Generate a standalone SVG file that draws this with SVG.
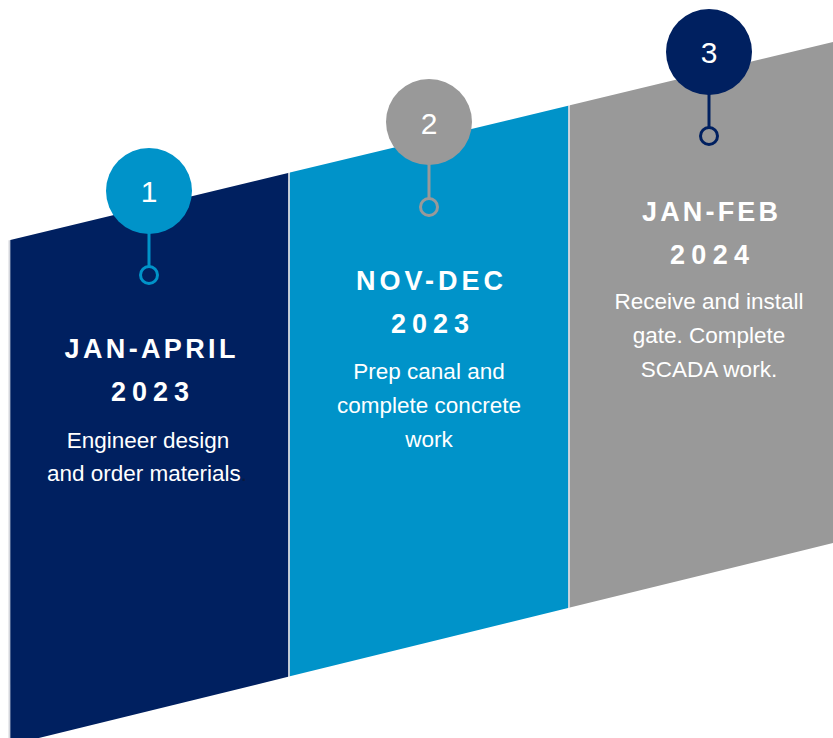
<svg xmlns="http://www.w3.org/2000/svg" width="833" height="738" viewBox="0 0 833 738">
  <style>
    .navy { fill: #002060; }
    .blue { fill: #0093C9; }
    .grey { fill: #999999; }
    .sep { stroke: #d4d6dc; stroke-width: 1.8; fill: none; }
    .num { font-family: "Liberation Sans", Arial, sans-serif; font-size: 30px; fill: #ffffff; text-anchor: middle; }
    .head { font-family: "Liberation Sans", Arial, sans-serif; font-size: 27px; font-weight: bold; fill: #ffffff; text-anchor: middle; }
    .body { font-family: "Liberation Sans", Arial, sans-serif; font-size: 22.5px; fill: #ffffff; text-anchor: middle; }
    .stem { stroke-width: 3; fill: none; }
    .ring { stroke-width: 3; fill: none; }
  </style>
  <rect width="833" height="738" fill="#ffffff"/>

  <!-- thin light rules at the panel edges -->
  <g id="separators">
    <line class="sep" x1="9.4" y1="240.2" x2="9.4" y2="745"/>
    <line class="sep" x1="289" y1="172.8" x2="289" y2="676.5"/>
    <line class="sep" x1="569" y1="105.5" x2="569" y2="607.8"/>
  </g>

  <!-- stage 1 -->
  <g id="stage1">
    <polygon class="navy" points="10.3,240 288.1,173.1 288.1,676.8 10.3,745"/>
    <text class="head" x="150" y="357.5" textLength="171" lengthAdjust="spacing">JAN-APRIL</text>
    <text class="head" x="150" y="401" textLength="78" lengthAdjust="spacing">2023</text>
    <text class="body" x="148" y="447.5">Engineer design</text>
    <text class="body" x="147" y="481">and order materials<tspan fill="#0b1a3d">.</tspan></text>
  </g>

  <!-- stage 2 -->
  <g id="stage2">
    <polygon class="blue" points="289.9,172.6 568.1,105.7 568.1,608 289.9,676.3"/>
    <text class="head" x="429.5" y="289.5" textLength="147" lengthAdjust="spacing">NOV-DEC</text>
    <text class="head" x="430" y="333" textLength="78" lengthAdjust="spacing">2023</text>
    <text class="body" x="429" y="379">Prep canal and</text>
    <text class="body" x="429" y="413">complete concrete</text>
    <text class="body" x="429" y="447">work</text>
  </g>

  <!-- stage 3 -->
  <g id="stage3">
    <polygon class="grey" points="569.9,105.3 833,42 833,543 569.9,607.6"/>
    <text class="head" x="710" y="220.5" textLength="136" lengthAdjust="spacing">JAN-FEB</text>
    <text class="head" x="709.5" y="264" textLength="79" lengthAdjust="spacing">2024</text>
    <text class="body" x="709" y="309">Receive and install</text>
    <text class="body" x="709" y="343">gate. Complete</text>
    <text class="body" x="709" y="377">SCADA work.</text>
  </g>

  <!-- pins: stem from each numbered badge down to its ring -->
  <g id="connectors">
    <line class="stem" x1="149" y1="230" x2="149" y2="266" stroke="#0093C9"/>
    <circle class="ring" cx="149" cy="275" r="8.5" stroke="#0093C9"/>
    <line class="stem" x1="429" y1="160" x2="429" y2="198" stroke="#999999"/>
    <circle class="ring" cx="429" cy="207" r="8.5" stroke="#999999"/>
    <line class="stem" x1="709" y1="90" x2="709" y2="127" stroke="#002060"/>
    <circle class="ring" cx="709" cy="136" r="8.5" stroke="#002060"/>
  </g>

  <!-- numbered badges -->
  <g id="badge1">
    <circle cx="149" cy="191" r="43" class="blue"/>
    <text class="num" x="149" y="202">1</text>
  </g>
  <g id="badge2">
    <circle cx="429" cy="122" r="43" class="grey"/>
    <text class="num" x="429" y="134">2</text>
  </g>
  <g id="badge3">
    <circle cx="709" cy="52" r="43" class="navy"/>
    <text class="num" x="709" y="63">3</text>
  </g>
</svg>
